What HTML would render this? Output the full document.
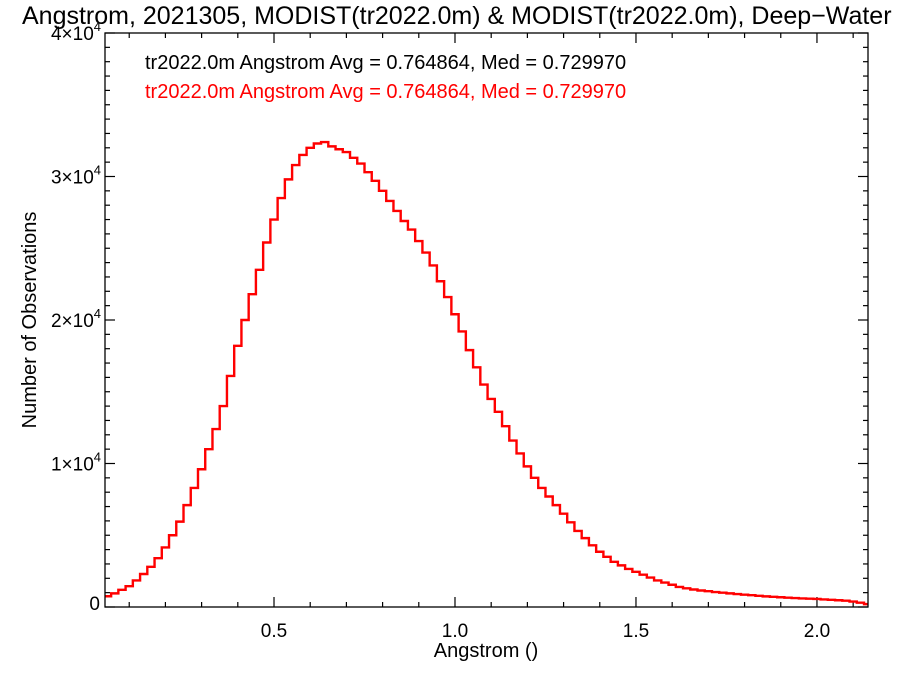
<!DOCTYPE html>
<html><head><meta charset="utf-8"><style>
body{margin:0;background:#fff}
svg{display:block;font-family:"Liberation Sans",Arial,sans-serif}
</style></head><body>
<svg id="chart" width="900" height="675" viewBox="0 0 900 675">
<rect width="900" height="675" fill="#fff"/>
<text x="22" y="24" font-size="25" fill="#000">Angstrom, 2021305, MODIST(tr2022.0m) &amp; MODIST(tr2022.0m), Deep−Water</text>
<text x="145" y="69" font-size="20" fill="#000">tr2022.0m Angstrom Avg = 0.764864, Med = 0.729970</text>
<text x="145" y="98" font-size="20" fill="#f00">tr2022.0m Angstrom Avg = 0.764864, Med = 0.729970</text>
<text x="486" y="657" font-size="20" text-anchor="middle">Angstrom ()</text>
<text transform="translate(36,320) rotate(-90)" font-size="20" text-anchor="middle">Number of Observations</text>
<g id="ticks"></g>
<g id="marks"></g>
<rect x="105" y="33" width="763" height="574" fill="none" stroke="#000" stroke-width="1.3"/>
</svg>
<script>
const binStart = 0.03;
const binWidth = 0.02;
const counts = [750,950,1200,1450,1850,2300,2800,3400,4150,5000,5950,7100,8300,9600,11000,12400,14000,16100,18200,20000,21800,23500,25400,27000,28500,29800,30800,31500,32000,32300,32400,32100,31900,31700,31300,30900,30300,29700,29000,28300,27600,26900,26300,25500,24700,23800,22700,21600,20400,19200,17900,16700,15500,14500,13600,12600,11600,10700,9800,9000,8300,7700,7100,6500,5900,5300,4800,4300,3850,3500,3150,2900,2650,2450,2250,2050,1850,1700,1550,1400,1300,1220,1150,1100,1040,1000,950,900,860,820,780,740,710,680,650,620,600,580,560,530,500,470,440,380,300,200];
const xTicks = [0.5,1.0,1.5,2.0];
const xTickLabels = ["0.5","1.0","1.5","2.0"];
const yTicks = [0,10000,20000,30000,40000];
const yTickMant = ["0","1","2","3","4"];

const X0=105,X1=868,Y0=607,Y1=33;
const xMin=0.0331,xMax=2.141,yMin=0,yMax=40000;
const sx=v=>X0+(v-xMin)/(xMax-xMin)*(X1-X0);
const sy=v=>Y0-(v-yMin)/(yMax-yMin)*(Y0-Y1);
const NS='http://www.w3.org/2000/svg';
const tg=document.getElementById('ticks');
function line(x1,y1,x2,y2,name){const l=document.createElementNS(NS,'line');
l.setAttribute('x1',x1);l.setAttribute('y1',y1);l.setAttribute('x2',x2);l.setAttribute('y2',y2);
l.setAttribute('stroke','#000');l.setAttribute('stroke-width','1.2');


tg.appendChild(l);}
function text(x,y,s,anchor,name,html){const t=document.createElementNS(NS,'text');
t.setAttribute('x',x);t.setAttribute('y',y);t.setAttribute('font-size','19');t.setAttribute('text-anchor',anchor);
if(html)t.innerHTML=html;else t.textContent=s;


tg.appendChild(t);}
for(let i=1;i<=21;i++){const v=i/10;const px=sx(v);if(px<X0||px>X1)continue;
const major=(i%5===0);const L=major?10:5;
line(px,Y0,px,Y0-L,'x-tick');line(px,Y1,px,Y1+L,'x-tick-top');}
xTicks.forEach((v,i)=>text(sx(v),637,xTickLabels[i],'middle','x-tick-label'));
for(let k=0;k<=40;k++){const v=k*1000;const py=sy(v);const major=(k%10===0);const L=major?10:5;
line(X0,py,X0+L,py,'y-tick');line(X1,py,X1-L,py,'y-tick-right');}
yTicks.forEach((v,i)=>{const py=sy(v);
if(v===0)text(100,py+3,'0','end','y-tick-label');
else text(101,py+7,'', 'end','y-tick-label', yTickMant[i]+'×10<tspan font-size="13" dy="-9">4</tspan>');});
let d='';
counts.forEach((c,i)=>{const a=Math.max(binStart+i*binWidth,xMin),b=Math.min(binStart+(i+1)*binWidth,xMax);
const y=sy(c);d+=(i===0?'M':'L')+sx(a).toFixed(2)+','+y.toFixed(2)+' L'+sx(b).toFixed(2)+','+y.toFixed(2)+' ';});
const p=document.createElementNS(NS,'path');p.setAttribute('d',d);p.setAttribute('fill','none');
p.setAttribute('stroke','#f00');p.setAttribute('stroke-width','2.4');


document.getElementById('marks').appendChild(p);
</script>
</body></html>
